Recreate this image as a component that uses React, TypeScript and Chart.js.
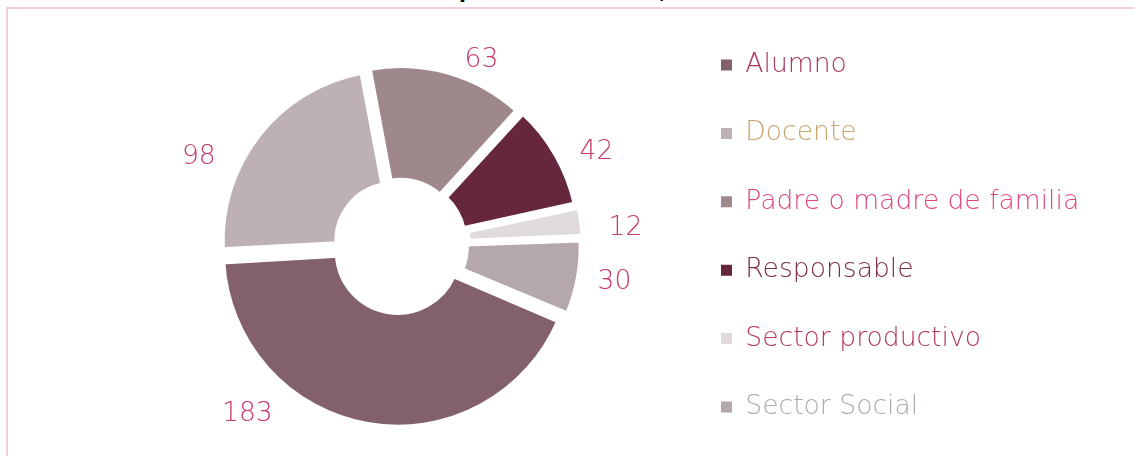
import React, { useEffect, useRef } from "react";
import { Chart, registerables } from "chart.js";

Chart.register(...registerables);

// ---- data ----
const categories = [
  "Alumno",
  "Docente",
  "Padre o madre de familia",
  "Responsable",
  "Sector productivo",
  "Sector Social",
];
const values = [183, 98, 63, 42, 12, 30];
const sliceColors = ["#83616b", "#bdb1b5", "#9e888c", "#66263d", "#e0dadb", "#b5a8aa"];
const legendTextColors = ["#a8375b", "#c9a66f", "#e0467c", "#7a2c48", "#b3375a", "#b0a8aa"];
const titleText = "Gráfica 1. Participación de actores, total de encuestas";

// ---- styling / layout ----
const W = 1135;
const H = 483;
const FONT = "'DejaVu Sans', Inter, sans-serif";
const FW = "200";
const FS = 26.6;
const LEG_PAD = 68.4 - FS;
const BOX = 11;
const CX = 399;
const CY = 245;
const LEG_BOX_X = 721;
const LEG_FIRST_Y = 65;
const LABEL_COLOR = "#c8386a";
const LABEL_DY = 2;
const labelAlong = [0.71, 0.33, 0.65, 0.62, 0.74, 0.45];
const labelGap = [54, 48, 33, 48, 56, 47];

const outsideLabels = {
  id: "outsideLabels",
  afterDatasetsDraw(chart: any) {
    const meta = chart.getDatasetMeta(0);
    const ctx = chart.ctx;
    ctx.save();
    ctx.font = `${FW} ${FS}px ${FONT}`;
    ctx.fillStyle = LABEL_COLOR;
    ctx.textAlign = "center";
    ctx.textBaseline = "middle";
    meta.data.forEach((arc: any, i: number) => {
      const { x, y, startAngle, endAngle, outerRadius } = arc.getProps(
        ["x", "y", "startAngle", "endAngle", "outerRadius"],
        true
      );
      const a = startAngle + labelAlong[i] * (endAngle - startAngle);
      const r = outerRadius + labelGap[i];
      ctx.fillText(
        String(chart.data.datasets[0].data[i]),
        x + Math.cos(a) * r,
        y + Math.sin(a) * r + LABEL_DY
      );
    });
    ctx.restore();
  },
};

export default function App() {
  const ref = useRef<HTMLCanvasElement | null>(null);

  useEffect(() => {
    const canvas = ref.current;
    if (!canvas) return;
    const mctx = canvas.getContext("2d")!;
    mctx.font = `${FW} ${FS}px ${FONT}`;
    const maxText = Math.max(...categories.map((c) => mctx.measureText(c).width));

    const pt = LEG_FIRST_Y - FS / 2 - LEG_PAD;
    const pb = H - (2 * CY - pt);
    const L = LEG_BOX_X - LEG_PAD;
    const pl = 2 * CX - L;
    const lw = LEG_PAD + BOX + FS / 2 + maxText + 10;
    const pr = W - L - lw;

    const chart = new Chart(canvas, {
      type: "doughnut",
      data: {
        labels: categories,
        datasets: [
          {
            data: values,
            backgroundColor: sliceColors,
            borderColor: "#ffffff",
            borderWidth: 5,
            borderJoinStyle: "miter",
            offset: 28,
            hoverOffset: 0,
          } as any,
        ],
      },
      options: {
        responsive: false,
        animation: false,
        rotation: 113,
        cutout: "33%",
        radius: 171.3,
        layout: { padding: { left: pl, right: pr, top: pt, bottom: pb } },
        plugins: {
          tooltip: { enabled: false },
          legend: {
            position: "right",
            align: "start",
            labels: {
              boxWidth: BOX,
              boxHeight: BOX,
              padding: LEG_PAD,
              font: { family: FONT, size: FS, weight: FW as any },
              generateLabels: (ch: any) =>
                ch.data.labels.map((t: string, i: number) => ({
                  text: t,
                  fillStyle: sliceColors[i],
                  strokeStyle: sliceColors[i],
                  lineWidth: 0,
                  fontColor: legendTextColors[i],
                  hidden: false,
                  index: i,
                })),
            },
          },
        },
      } as any,
      plugins: [outsideLabels],
    });
    return () => chart.destroy();
  }, []);

  return (
    <div
      style={{
        position: "fixed",
        left: 0,
        top: 0,
        width: "100vw",
        height: "100vh",
        overflow: "hidden",
        background: "#ffffff",
      }}
    >
      <div
        style={{
          position: "absolute",
          left: 6,
          top: 7,
          width: 1300,
          height: 700,
          border: "2px solid #f6cfdd",
          boxSizing: "border-box",
        }}
      />
      <div
        style={{
          position: "absolute",
          left: 0,
          width: 1154,
          top: -20,
          textAlign: "center",
          fontFamily: FONT,
          fontWeight: 700,
          fontSize: 20,
          lineHeight: "22px",
          color: "#000000",
          whiteSpace: "nowrap",
        }}
      >
        {titleText}
      </div>
      <canvas
        ref={ref}
        width={W}
        height={H}
        style={{ position: "absolute", left: 0, top: 0, width: W, height: H, display: "block" }}
      />
    </div>
  );
}
